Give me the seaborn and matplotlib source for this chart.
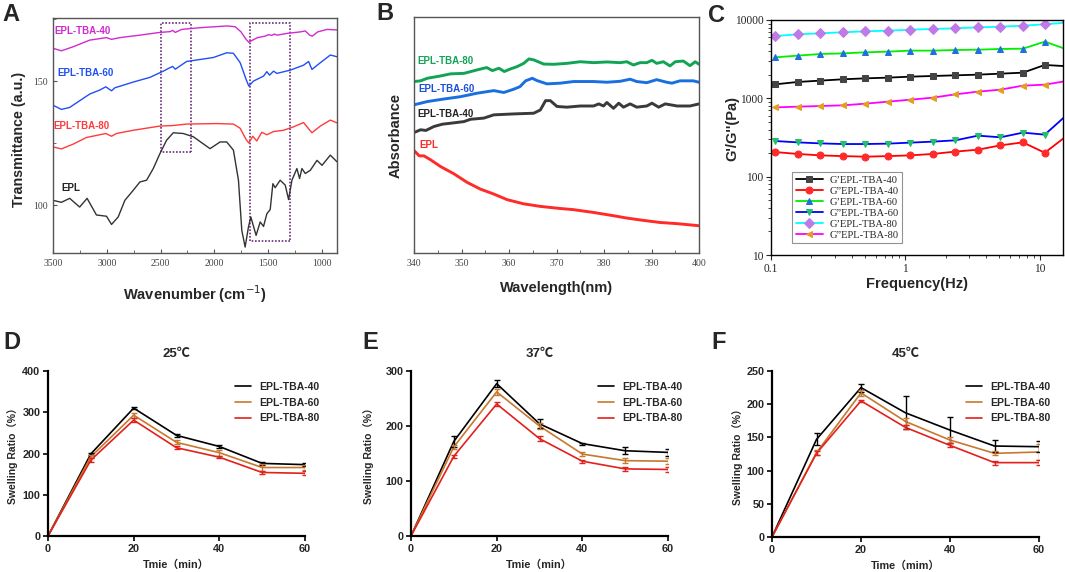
import numpy as np
import pandas as pd
import matplotlib
matplotlib.use("Agg")
import matplotlib.pyplot as plt
from matplotlib.patches import Rectangle
from matplotlib.ticker import MultipleLocator, FixedLocator, NullFormatter
import seaborn as sns

# ---------------- A: FTIR ----------------
ftir_wn_40 = [3500, 3422, 3314, 3158, 3003, 2956, 2879, 2692, 2506, 2413, 2388, 2363, 2304, 2133, 1885, 1807,
              1754, 1705, 1680, 1649, 1599, 1528, 1497, 1466, 1444, 1413, 1326, 1202, 1155, 1115, 1090, 1040, 953, 860]
ftir_t_40 = [163.2, 162.2, 163.8, 166.5, 167.5, 166.8, 167.5, 168.5, 169.6, 169.9, 170.4, 169.6, 170.8, 171.5, 172.2, 171.9,
             169.9, 166.8, 165.6, 166.4, 167.5, 168.1, 168.7, 168.4, 168.9, 168.5, 169.2, 169.8, 170.2, 168.5, 168.1, 169.8, 170.8, 170.6]
ftir_wn_60 = [3500, 3422, 3345, 3252, 3158, 3065, 3009, 2956, 2925, 2873, 2755, 2599, 2475, 2413, 2388, 2363, 2258, 2133,
              2009, 1885, 1823, 1760, 1705, 1680, 1637, 1543, 1512, 1487, 1450, 1419, 1295, 1171, 1124, 1093, 1015, 922, 860]
ftir_t_60 = [140.3, 138.6, 139.4, 142.1, 144.8, 146.4, 147.7, 146.1, 147.3, 148.0, 149.6, 151.5, 154.0, 155.4, 155.9, 154.8,
             157.9, 158.7, 159.5, 161.4, 161.2, 157.4, 150.7, 148.0, 150.0, 152.0, 153.8, 152.4, 154.0, 153.1, 154.4, 156.4,
             157.9, 154.7, 157.4, 160.5, 159.8]
ftir_wn_80 = [3500, 3422, 3314, 3189, 3009, 2956, 2910, 2755, 2506, 2388, 2258, 1978, 1823, 1760, 1705, 1680, 1643, 1606,
              1559, 1512, 1450, 1357, 1264, 1171, 1093, 1015, 922, 860]
ftir_t_80 = [123.5, 122.7, 124.6, 127.3, 128.9, 127.8, 128.9, 130.2, 131.9, 132.1, 132.7, 132.9, 132.7, 131.0, 126.5, 125.1,
             127.8, 125.9, 129.4, 128.4, 129.7, 130.2, 131.6, 133.3, 129.2, 131.9, 134.3, 133.2]
ftir_wn_epl = [3500, 3422, 3345, 3252, 3183, 3096, 3003, 2956, 2894, 2832, 2755, 2692, 2630, 2568, 2506, 2444, 2382, 2289,
               2196, 2040, 1947, 1885, 1823, 1776, 1745, 1714, 1683, 1661, 1612, 1574, 1543, 1512, 1481, 1456, 1435, 1388,
               1341, 1310, 1279, 1233, 1208, 1186, 1155, 1108, 1046, 999, 922, 860]
ftir_t_epl = [102.0, 101.2, 102.8, 99.3, 102.8, 96.1, 95.6, 92.3, 95.3, 102.0, 106.0, 109.4, 110.1, 114.8, 120.8, 126.2,
              129.2, 128.9, 127.6, 122.8, 125.5, 125.5, 122.2, 110.1, 89.9, 83.2, 91.3, 95.3, 87.9, 93.3, 91.5, 96.6, 98.3,
              108.7, 107.1, 110.1, 108.1, 102.3, 110.1, 114.8, 110.8, 114.8, 112.8, 114.1, 118.1, 116.1, 120.2, 117.5]

# ---------------- B: UV ----------------
uv_wl_80 = [340.0, 341.4, 342.8, 345.6, 347.7, 350.5, 353.3, 355.3, 356.5, 357.9, 359.0, 360.3, 361.7, 363.1, 364.2, 365.2,
            367.3, 369.4, 372.2, 375.0, 377.8, 380.6, 383.4, 384.8, 386.2, 387.6, 389.0, 390.1, 391.1, 392.5, 393.9, 395.0,
            396.7, 398.1, 399.2, 400.0]
uv_a_80 = [0.736, 0.739, 0.750, 0.760, 0.769, 0.771, 0.786, 0.796, 0.783, 0.793, 0.779, 0.790, 0.800, 0.814, 0.833, 0.829,
           0.811, 0.810, 0.814, 0.821, 0.817, 0.820, 0.817, 0.821, 0.807, 0.817, 0.817, 0.827, 0.814, 0.821, 0.803, 0.821,
           0.824, 0.804, 0.821, 0.810]
uv_wl_60 = [340.0, 342.8, 346.3, 349.8, 353.3, 356.8, 358.9, 361.0, 362.3, 363.5, 364.9, 365.9, 368.0, 370.8, 373.6, 377.8,
            380.6, 383.4, 385.5, 386.9, 389.0, 391.1, 393.2, 394.3, 396.0, 398.8, 400.0]
uv_a_60 = [0.636, 0.650, 0.661, 0.671, 0.686, 0.697, 0.689, 0.703, 0.714, 0.739, 0.750, 0.740, 0.726, 0.729, 0.736, 0.736,
           0.733, 0.737, 0.746, 0.736, 0.731, 0.744, 0.733, 0.729, 0.739, 0.739, 0.733]
uv_wl_40 = [340.0, 341.4, 342.5, 344.2, 346.0, 347.7, 350.5, 351.9, 354.7, 356.8, 361.0, 365.2, 366.6, 367.7, 368.7, 370.1,
            372.2, 375.0, 377.8, 378.9, 379.9, 380.6, 382.0, 383.1, 384.1, 385.5, 386.9, 389.0, 390.1, 391.5, 392.9, 395.4,
            398.1, 400.0]
uv_a_40 = [0.517, 0.529, 0.526, 0.543, 0.553, 0.557, 0.564, 0.574, 0.579, 0.593, 0.597, 0.600, 0.614, 0.654, 0.654, 0.629,
           0.626, 0.631, 0.631, 0.640, 0.631, 0.646, 0.621, 0.643, 0.626, 0.640, 0.626, 0.631, 0.643, 0.626, 0.640, 0.631,
           0.631, 0.640]
uv_wl_epl = [340.0, 341.1, 342.1, 343.5, 345.6, 348.4, 351.2, 354.0, 356.8, 359.6, 363.1, 366.6, 370.8, 373.6, 377.8, 382.0,
             384.8, 388.3, 391.8, 395.4, 400.0]
uv_a_epl = [0.440, 0.417, 0.417, 0.400, 0.371, 0.340, 0.303, 0.274, 0.253, 0.229, 0.211, 0.200, 0.191, 0.186, 0.174, 0.160,
            0.150, 0.140, 0.131, 0.126, 0.117]

# ---------------- C: rheology ----------------
freq = [0.108, 0.158, 0.233, 0.343, 0.505, 0.743, 1.09, 1.6, 2.36, 3.47, 5.1, 7.5, 10.9, 16.0]
g1_40 = [1510, 1618, 1683, 1750, 1800, 1837, 1892, 1928, 1967, 2006, 2065, 2127, 2666, 2570]
g2_40 = [206, 195, 187, 183, 180, 183, 187, 195, 209, 221, 251, 274, 202, 335]
g1_60 = [3336, 3510, 3680, 3750, 3865, 3945, 4065, 4065, 4140, 4180, 4265, 4305, 5290, 4200]
g2_60 = [285, 274, 266, 261, 261, 264, 272, 280, 291, 334, 318, 365, 344, 620]
g1_80 = [6250, 6560, 6760, 6970, 7170, 7310, 7530, 7680, 7830, 8060, 8220, 8470, 8810, 9300]
g2_80 = [767, 783, 798, 814, 855, 907, 961, 1020, 1125, 1217, 1291, 1452, 1494, 1670]

# ---------------- D/E/F: swelling ----------------
time_min = [0, 10, 20, 30, 40, 50, 60]
sw25_40 = [0, 199, 310, 244, 217, 176, 173]
sw25_60 = [0, 192, 293, 227, 202, 166, 166]
sw25_80 = [0, 184, 281, 214, 191, 154, 152]
sw25_40_sd = [0, 3, 3, 4, 4, 3, 3]
sw25_60_sd = [0, 4, 6, 5, 7, 8, 6]
sw25_80_sd = [0, 5, 5, 4, 3, 4, 5]
sw37_40 = [0, 172, 277, 204, 168, 155, 152]
sw37_60 = [0, 162, 262, 200, 149, 137, 136]
sw37_80 = [0, 145, 240, 177, 136, 122, 121]
sw37_40_sd = [0, 10, 6, 8, 2, 6, 6]
sw37_60_sd = [0, 4, 5, 5, 4, 4, 5]
sw37_80_sd = [0, 3, 3, 4, 3, 3, 5]
sw45_40 = [0, 147, 225, 187, 161, 137, 136]
sw45_60 = [0, 127, 217, 174, 146, 126, 128]
sw45_80 = [0, 126, 205, 165, 138, 112, 112]
sw45_40_sd = [0, 9, 6, 25, 20, 9, 8]
sw45_60_sd = [0, 4, 4, 5, 4, 3, 12]
sw45_80_sd = [0, 3, 2, 3, 3, 3, 4]

sample_names = ["EPL-TBA-40", "EPL-TBA-60", "EPL-TBA-80"]

sns.set_style("ticks")
plt.rcParams["font.family"] = ["Liberation Sans", "Noto Sans CJK SC", "DejaVu Sans"]
SERIF = ["Liberation Serif", "DejaVu Serif"]
CJK = ["Liberation Sans", "Noto Sans CJK SC", "DejaVu Sans"]

fig = plt.figure(figsize=(10.65, 5.72), dpi=100)
W, H = 1065, 572


def add_ax(x0, y0, x1, y1):
    return fig.add_axes([x0 / W, 1 - y1 / H, (x1 - x0) / W, (y1 - y0) / H])


def spectra_frame(ax):
    for s in ax.spines.values():
        s.set_color("#555555")
        s.set_linewidth(1.0)
    ax.tick_params(direction="in", length=3, width=0.8, color="#555555", labelcolor="#444444",
                   labelsize=7, pad=4)
    for lab in ax.get_xticklabels() + ax.get_yticklabels():
        lab.set_fontfamily(SERIF)


# ---- panel A ----
axA = add_ax(53, 18, 337, 253)
for wn, t, c in [(ftir_wn_40, ftir_t_40, "#d02ad0"), (ftir_wn_60, ftir_t_60, "#1f4ff5"),
                 (ftir_wn_80, ftir_t_80, "#ff3a3a"), (ftir_wn_epl, ftir_t_epl, "#333333")]:
    sns.lineplot(x=wn, y=t, ax=axA, color=c, lw=1.0, sort=False, estimator=None)
axA.set_xlim(3500, 860)
axA.set_ylim(80.8, 175.4)
axA.set_xticks([3500, 3000, 2500, 2000, 1500, 1000])
axA.xaxis.set_minor_locator(MultipleLocator(250))
axA.set_yticks([100, 150])
axA.yaxis.set_minor_locator(MultipleLocator(25))
axA.tick_params(which="minor", direction="in", length=2, color="#555555")
box_kw = dict(fill=False, ls=(0, (1, 1)), lw=1.2, ec="#6a2c7a")
axA.add_patch(Rectangle((2220, 121.5), 277, 52, **box_kw))
axA.add_patch(Rectangle((1295, 85.6), 372, 87.9, **box_kw))
lab_kw = dict(fontsize=7, fontweight="bold", va="center", ha="left")
axA.text(3485, 170.3, "EPL-TBA-40", color="#d02ad0", **lab_kw)
axA.text(3463, 153.2, "EPL-TBA-60", color="#1f4ff5", **lab_kw)
axA.text(3495, 131.8, "EPL-TBA-80", color="#ff3a3a", **lab_kw)
axA.text(3420, 106.8, "EPL", color="#222222", **lab_kw)
axA.set_xlabel("Wavenumber (cm$^{-1}$)", fontsize=10.5, fontweight="bold", labelpad=4)
axA.set_ylabel("Transmittance (a.u.)", fontsize=10.3, fontweight="bold")
axA.yaxis.set_label_coords(-0.095, 0.485)
axA.xaxis.set_label_coords(0.5, -0.13)
spectra_frame(axA)

# ---- panel B ----
axB = add_ax(414, 17, 699, 253)
for wl, a, c in [(uv_wl_80, uv_a_80, "#12a355"), (uv_wl_60, uv_a_60, "#1a6fe0"),
                 (uv_wl_40, uv_a_40, "#3a3a3a"), (uv_wl_epl, uv_a_epl, "#ff2a2a")]:
    sns.lineplot(x=wl, y=a, ax=axB, color=c, lw=2.1, sort=False, estimator=None)
axB.set_xlim(340, 400)
axB.set_ylim(0, 1.013)
axB.set_xticks(range(340, 401, 10))
axB.xaxis.set_minor_locator(MultipleLocator(5))
axB.tick_params(which="minor", direction="in", length=2, color="#555555")
axB.set_yticks([])
axB.text(340.7, 0.824, "EPL-TBA-80", color="#12a355", **lab_kw)
axB.text(341.0, 0.703, "EPL-TBA-60", color="#1a4fd8", **lab_kw)
axB.text(340.7, 0.596, "EPL-TBA-40", color="#222222", **lab_kw)
axB.text(341.2, 0.464, "EPL", color="#ff2a2a", **lab_kw)
axB.set_xlabel("Wavelength(nm)", fontsize=10.5, fontweight="bold")
axB.set_ylabel("Absorbance", fontsize=10.5, fontweight="bold")
axB.yaxis.set_label_coords(-0.04, 0.5)
axB.xaxis.set_label_coords(0.5, -0.12)
spectra_frame(axB)

# ---- panel C ----
axC = add_ax(771, 20, 1063, 255)
rheo = [
    (g1_40, "G\u2019EPL-TBA-40", "#000000", "s", "#444444"),
    (g2_40, "G\u201dEPL-TBA-40", "#ff0000", "o", "#ff2a2a"),
    (g1_60, "G\u2019EPL-TBA-60", "#00ee00", "^", "#1f6fe0"),
    (g2_60, "G\u201dEPL-TBA-60", "#0000ff", "v", "#22c06a"),
    (g1_80, "G\u2019EPL-TBA-80", "#00ffff", "D", "#c07ae8"),
    (g2_80, "G\u201dEPL-TBA-80", "#ff00ff", "<", "#e0a020"),
]
for vals, name, lc, mk, mc in rheo:
    sns.lineplot(x=freq, y=vals, ax=axC, color=lc, lw=1.3, marker=mk, markersize=5,
                 markerfacecolor=mc, markeredgecolor=mc, label=name, sort=False, estimator=None)
axC.set_xscale("log")
axC.set_yscale("log")
axC.set_xlim(0.1, 14.9)
axC.set_ylim(10, 10000)
axC.xaxis.set_major_locator(FixedLocator([0.1, 1, 10]))
axC.set_xticklabels(["0.1", "1", "10"])
axC.yaxis.set_major_locator(FixedLocator([10, 100, 1000, 10000]))
axC.set_yticklabels(["10", "100", "1000", "10000"])
axC.xaxis.set_minor_formatter(NullFormatter())
axC.yaxis.set_minor_formatter(NullFormatter())
for s in axC.spines.values():
    s.set_color("#000000")
    s.set_linewidth(1.0)
axC.tick_params(which="major", direction="out", length=3.5, width=0.8, labelsize=8.3, pad=2)
axC.tick_params(which="minor", direction="out", length=2, width=0.6)
for lab in axC.get_xticklabels() + axC.get_yticklabels():
    lab.set_fontfamily(SERIF)
leg = axC.legend(loc="lower left", bbox_to_anchor=(0.055, 0.03), prop={"family": SERIF, "size": 7.6},
                 frameon=True, fancybox=False, edgecolor="#777777", handlelength=2.6,
                 borderpad=0.3, labelspacing=0.15, handletextpad=0.6)
leg.get_frame().set_linewidth(0.8)
axC.set_xlabel("Frequency(Hz)", fontsize=10.5, fontweight="bold", labelpad=2)
axC.set_ylabel("G'/G''(Pa)", fontsize=10.5, fontweight="bold")
axC.yaxis.set_label_coords(-0.11, 0.54)

# ---- panels D/E/F ----
sw_colors = ["#000000", "#c8782d", "#e3201c"]
swell_panels = [
    ((48, 371, 305, 536), "25\u2103", [sw25_40, sw25_60, sw25_80], [sw25_40_sd, sw25_60_sd, sw25_80_sd],
     400, 100, "Tmie\uff08min\uff09", -0.115),
    ((411, 371, 668, 536), "37\u2103", [sw37_40, sw37_60, sw37_80], [sw37_40_sd, sw37_60_sd, sw37_80_sd],
     300, 100, "Tmie\uff08min\uff09", -0.145),
    ((772, 371, 1039, 537), "45\u2103", [sw45_40, sw45_60, sw45_80], [sw45_40_sd, sw45_60_sd, sw45_80_sd],
     250, 50, "Time\uff08mim\uff09", -0.11),
]
for (x0, y0, x1, y1), title, means, sds, ymax, ystep, xlab, ylab_x in swell_panels:
    ax = add_ax(x0, y0, x1, y1)
    df = pd.DataFrame({"time": time_min * 3,
                       "ratio": sum(means, []),
                       "sd": sum(sds, []),
                       "sample": np.repeat(sample_names, len(time_min))})
    sns.lineplot(data=df, x="time", y="ratio", hue="sample", palette=sw_colors, ax=ax, lw=1.2,
                 estimator=None, sort=False)
    for (name, sub), c in zip(df.groupby("sample", sort=False), sw_colors):
        ax.errorbar(sub["time"], sub["ratio"], yerr=sub["sd"], fmt="none", ecolor=c,
                    elinewidth=1.0, capsize=2.5, capthick=1.0)
    ax.set_xlim(0, 60)
    ax.set_ylim(0, ymax)
    ax.set_xticks([0, 20, 40, 60])
    ax.set_yticks(np.arange(0, ymax + 1, ystep))
    sns.despine(ax=ax)
    for s in ["left", "bottom"]:
        ax.spines[s].set_linewidth(1.6)
        ax.spines[s].set_color("#000000")
    ax.tick_params(direction="out", length=3.5, width=1.4, labelsize=7.8, pad=2)
    for lab in ax.get_xticklabels() + ax.get_yticklabels():
        lab.set_fontweight("bold")
    ax.set_title(title, fontsize=9.5, fontweight="bold", pad=10, family=CJK)
    ax.set_xlabel(xlab, fontsize=7.8, fontweight="bold", family=CJK, labelpad=4)
    ax.set_ylabel("Swelling Ratio\uff08%\uff09", fontsize=7.5, fontweight="bold", family=CJK)
    ax.yaxis.set_label_coords(ylab_x, 0.5)
    handles, labels = ax.get_legend_handles_labels()
    ax.legend(handles, labels, loc="upper left", bbox_to_anchor=(0.69, 0.99), frameon=False,
              prop={"size": 7.5, "weight": "bold"}, handlelength=1.6, labelspacing=0.55, handletextpad=0.8)

# panel letters
for letter, (px, py) in zip("ABCDEF", [(2, 3), (376, 2), (708, 4), (3, 331), (362, 331), (711, 331)]):
    fig.text(px / W, 1 - py / H, letter, fontsize=17, fontweight="bold", va="top", ha="left")

fig.savefig("out.png", dpi=100)
